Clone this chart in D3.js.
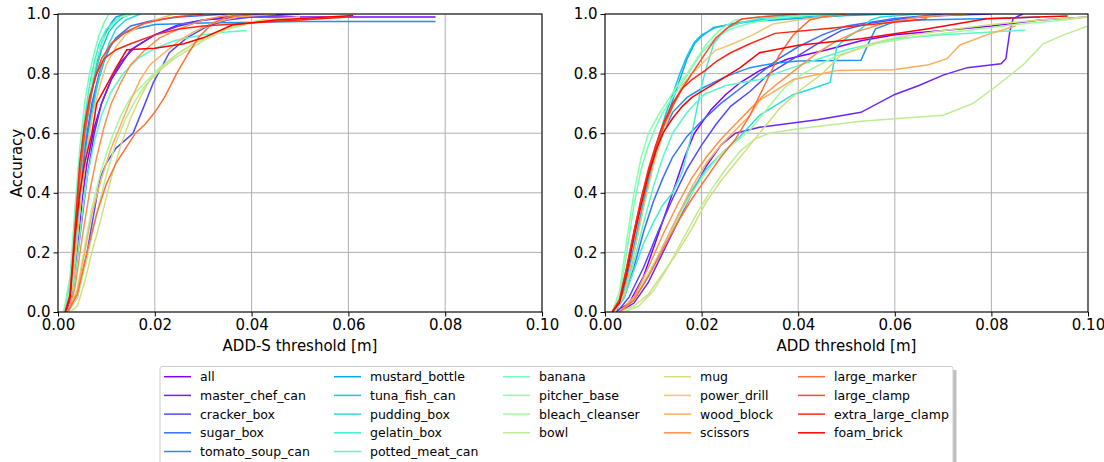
<!DOCTYPE html>
<meta charset="utf-8">
<body style="margin:0;background:#fff">
<div id="chart"></div>
<script src="https://d3js.org/d3.v7.min.js"></script>
<script>
// object names, in legend order
var objects = ["all", "master_chef_can", "cracker_box", "sugar_box", "tomato_soup_can",
  "mustard_bottle", "tuna_fish_can", "pudding_box", "gelatin_box", "potted_meat_can",
  "banana", "pitcher_base", "bleach_cleanser", "bowl",
  "mug", "power_drill", "wood_block", "scissors",
  "large_marker", "large_clamp", "extra_large_clamp", "foam_brick"];

var xTicks = [0, 0.02, 0.04, 0.06, 0.08, 0.10];
var yTicks = [0, 0.2, 0.4, 0.6, 0.8, 1.0];

// accuracy curves, ADD-S: [threshold m, accuracy]
var addsCurves = [
  [[0.0015,0],[0.003,0.05],[0.004,0.2],[0.005,0.38],[0.006,0.5],[0.0075,0.62],[0.009,0.7],[0.011,0.78],[0.013,0.83],[0.015,0.88],[0.02,0.93],[0.025,0.965],[0.03,0.98],[0.038,0.99],[0.06,0.99],[0.078,0.99]],
  [[0.002,0],[0.003,0.06],[0.0045,0.25],[0.006,0.45],[0.0075,0.6],[0.009,0.7],[0.011,0.78],[0.013,0.84],[0.016,0.89],[0.02,0.93],[0.025,0.96],[0.03,0.98],[0.037,0.995],[0.05,1.0]],
  [[0.002,0],[0.004,0.05],[0.006,0.2],[0.0087,0.45],[0.01,0.5],[0.012,0.55],[0.0155,0.6],[0.018,0.7],[0.0197,0.77],[0.023,0.87],[0.0266,0.92],[0.031,0.96],[0.035,0.98],[0.04,0.99],[0.05,1.0]],
  [[0.0015,0],[0.003,0.1],[0.004,0.3],[0.005,0.48],[0.006,0.6],[0.007,0.7],[0.0085,0.8],[0.01,0.87],[0.012,0.92],[0.015,0.96],[0.02,0.98],[0.025,0.99],[0.035,1.0]],
  [[0.0015,0],[0.003,0.1],[0.004,0.28],[0.005,0.45],[0.006,0.58],[0.007,0.68],[0.008,0.76],[0.0095,0.84],[0.011,0.9],[0.013,0.93],[0.016,0.95],[0.02,0.965],[0.03,0.97],[0.05,0.975],[0.078,0.975]],
  [[0.0015,0],[0.003,0.12],[0.004,0.33],[0.005,0.52],[0.006,0.66],[0.007,0.76],[0.008,0.84],[0.009,0.9],[0.01,0.94],[0.011,0.97],[0.012,0.99],[0.014,1.0]],
  [[0.0015,0],[0.003,0.1],[0.004,0.3],[0.005,0.5],[0.006,0.64],[0.007,0.74],[0.008,0.82],[0.009,0.88],[0.0105,0.94],[0.012,0.97],[0.0135,0.99],[0.015,1.0]],
  [[0.0015,0],[0.003,0.08],[0.004,0.25],[0.005,0.42],[0.006,0.55],[0.007,0.66],[0.008,0.75],[0.009,0.82],[0.0105,0.9],[0.012,0.95],[0.014,0.98],[0.017,1.0]],
  [[0.0012,0],[0.0025,0.1],[0.0035,0.3],[0.0045,0.5],[0.0055,0.65],[0.0065,0.76],[0.0075,0.84],[0.0085,0.9],[0.01,0.95],[0.012,0.98],[0.014,1.0]],
  [[0.002,0],[0.003,0.05],[0.004,0.18],[0.005,0.33],[0.006,0.45],[0.0075,0.57],[0.009,0.66],[0.011,0.74],[0.0135,0.8],[0.0165,0.85],[0.0195,0.88],[0.024,0.91],[0.03,0.93],[0.035,0.94],[0.039,0.945]],
  [[0.0012,0],[0.0025,0.12],[0.0035,0.35],[0.0045,0.55],[0.0055,0.7],[0.0065,0.8],[0.0075,0.87],[0.0085,0.93],[0.0095,0.97],[0.0105,1.0]],
  [[0.0015,0],[0.003,0.12],[0.004,0.33],[0.005,0.52],[0.006,0.66],[0.007,0.77],[0.008,0.85],[0.0095,0.92],[0.011,0.96],[0.013,0.99],[0.016,1.0]],
  [[0.002,0],[0.004,0.08],[0.0055,0.22],[0.007,0.35],[0.009,0.48],[0.011,0.58],[0.013,0.66],[0.015,0.72],[0.018,0.77],[0.021,0.82],[0.025,0.87],[0.03,0.92],[0.035,0.95],[0.04,0.97],[0.05,0.99]],
  [[0.002,0],[0.004,0.05],[0.006,0.18],[0.008,0.33],[0.01,0.46],[0.012,0.57],[0.014,0.65],[0.016,0.71],[0.018,0.76],[0.021,0.81],[0.024,0.85],[0.027,0.88],[0.03,0.91],[0.035,0.95],[0.04,0.97],[0.05,0.985],[0.06,0.99]],
  [[0.0025,0],[0.004,0.02],[0.0055,0.1],[0.007,0.2],[0.009,0.32],[0.011,0.45],[0.013,0.56],[0.015,0.65],[0.017,0.72],[0.019,0.78],[0.022,0.83],[0.025,0.87],[0.028,0.9],[0.032,0.93],[0.036,0.96],[0.042,0.98],[0.05,0.99]],
  [[0.0015,0],[0.003,0.08],[0.004,0.25],[0.005,0.42],[0.006,0.55],[0.007,0.65],[0.0085,0.75],[0.01,0.83],[0.012,0.89],[0.014,0.93],[0.017,0.96],[0.02,0.98],[0.024,1.0]],
  [[0.002,0],[0.004,0.07],[0.0055,0.2],[0.007,0.33],[0.009,0.45],[0.011,0.55],[0.013,0.63],[0.015,0.71],[0.017,0.78],[0.019,0.83],[0.022,0.87],[0.025,0.91],[0.028,0.94],[0.032,0.97],[0.037,0.99],[0.045,1.0]],
  [[0.002,0],[0.0035,0.08],[0.005,0.25],[0.0065,0.4],[0.008,0.52],[0.0095,0.62],[0.011,0.7],[0.013,0.77],[0.015,0.83],[0.018,0.88],[0.021,0.92],[0.025,0.95],[0.03,0.98],[0.036,1.0]],
  [[0.002,0],[0.004,0.06],[0.006,0.2],[0.008,0.33],[0.01,0.43],[0.012,0.5],[0.014,0.55],[0.016,0.6],[0.018,0.63],[0.02,0.67],[0.022,0.72],[0.0245,0.8],[0.027,0.87],[0.029,0.92],[0.032,0.97],[0.035,0.99],[0.04,1.0]],
  [[0.0015,0],[0.0025,0.05],[0.0035,0.25],[0.0045,0.45],[0.0055,0.6],[0.0065,0.7],[0.0075,0.78],[0.009,0.85],[0.011,0.9],[0.014,0.94],[0.018,0.97],[0.024,0.99],[0.03,1.0]],
  [[0.0015,0],[0.0025,0.06],[0.0035,0.28],[0.0045,0.5],[0.0055,0.63],[0.0065,0.72],[0.008,0.8],[0.0095,0.85],[0.012,0.88],[0.015,0.9],[0.02,0.93],[0.025,0.95],[0.03,0.96],[0.04,0.97],[0.05,0.98],[0.06,0.99]],
  [[0.0015,0],[0.0025,0.05],[0.0035,0.25],[0.0045,0.4],[0.0055,0.5],[0.007,0.6],[0.008,0.7],[0.01,0.76],[0.012,0.82],[0.0142,0.88],[0.02,0.885],[0.026,0.9],[0.03,0.92],[0.036,0.963],[0.045,0.98],[0.061,0.995]]
];

// accuracy curves, ADD
var addCurves = [
  [[0.002,0],[0.005,0.03],[0.008,0.12],[0.011,0.26],[0.014,0.4],[0.0165,0.52],[0.0185,0.6],[0.022,0.68],[0.025,0.73],[0.028,0.77],[0.032,0.81],[0.038,0.85],[0.046,0.88],[0.053,0.91],[0.06,0.93],[0.07,0.945],[0.08,0.96],[0.09,0.98],[0.1,0.99]],
  [[0.003,0],[0.006,0.03],[0.009,0.1],[0.012,0.2],[0.015,0.3],[0.018,0.4],[0.021,0.49],[0.024,0.56],[0.027,0.6],[0.032,0.62],[0.044,0.645],[0.053,0.67],[0.06,0.73],[0.065,0.76],[0.07,0.795],[0.075,0.82],[0.082,0.833],[0.083,0.85],[0.0838,0.94],[0.0845,0.985],[0.0865,1.0]],
  [[0.0025,0],[0.005,0.05],[0.008,0.15],[0.011,0.27],[0.014,0.38],[0.017,0.48],[0.02,0.56],[0.023,0.63],[0.026,0.69],[0.03,0.74],[0.034,0.8],[0.04,0.86],[0.045,0.91],[0.049,0.945],[0.055,0.97],[0.062,0.985],[0.07,0.995],[0.08,1.0]],
  [[0.002,0],[0.004,0.05],[0.006,0.15],[0.008,0.27],[0.01,0.37],[0.012,0.45],[0.014,0.52],[0.017,0.59],[0.02,0.64],[0.024,0.7],[0.028,0.75],[0.032,0.8],[0.036,0.85],[0.04,0.89],[0.045,0.93],[0.05,0.96],[0.06,0.985],[0.07,1.0]],
  [[0.002,0],[0.004,0.08],[0.006,0.22],[0.008,0.37],[0.01,0.5],[0.012,0.6],[0.014,0.67],[0.017,0.72],[0.02,0.75],[0.025,0.79],[0.03,0.82],[0.035,0.835],[0.04,0.842],[0.053,0.845],[0.0545,0.9],[0.056,0.95],[0.06,0.975],[0.065,0.98],[0.08,0.985],[0.09,0.99]],
  [[0.002,0],[0.0035,0.04],[0.005,0.12],[0.0065,0.24],[0.008,0.36],[0.0095,0.47],[0.011,0.56],[0.0125,0.64],[0.014,0.71],[0.0155,0.78],[0.017,0.85],[0.0185,0.9],[0.02,0.925],[0.0225,0.955],[0.026,0.965],[0.03,0.975],[0.04,0.985],[0.05,0.995],[0.06,1.0]],
  [[0.002,0],[0.0035,0.05],[0.005,0.13],[0.0065,0.25],[0.008,0.37],[0.0095,0.48],[0.011,0.58],[0.0125,0.66],[0.014,0.73],[0.0155,0.8],[0.017,0.86],[0.0185,0.905],[0.02,0.93],[0.023,0.955],[0.027,0.97],[0.032,0.98],[0.04,0.99],[0.05,1.0]],
  [[0.003,0],[0.006,0.04],[0.009,0.12],[0.012,0.22],[0.015,0.32],[0.018,0.41],[0.021,0.48],[0.024,0.53],[0.028,0.59],[0.032,0.66],[0.036,0.7],[0.039,0.73],[0.043,0.75],[0.0466,0.77],[0.048,0.89],[0.05,0.92],[0.053,0.95],[0.055,0.98],[0.057,0.99],[0.065,1.0]],
  [[0.002,0],[0.004,0.05],[0.006,0.14],[0.008,0.23],[0.01,0.3],[0.012,0.36],[0.014,0.4],[0.016,0.47],[0.018,0.6],[0.02,0.76],[0.021,0.82],[0.0225,0.9],[0.025,0.95],[0.028,0.97],[0.032,0.985],[0.04,0.995],[0.05,1.0]],
  [[0.002,0],[0.004,0.06],[0.006,0.17],[0.008,0.3],[0.01,0.42],[0.012,0.52],[0.014,0.6],[0.017,0.67],[0.0205,0.73],[0.025,0.76],[0.032,0.78],[0.037,0.81],[0.0424,0.84],[0.05,0.88],[0.06,0.917],[0.07,0.93],[0.08,0.94],[0.087,0.946]],
  [[0.0015,0],[0.003,0.05],[0.0045,0.2],[0.006,0.36],[0.0075,0.48],[0.009,0.56],[0.0105,0.62],[0.012,0.67],[0.014,0.72],[0.016,0.77],[0.018,0.82],[0.02,0.87],[0.023,0.92],[0.026,0.95],[0.03,0.97],[0.035,0.985],[0.045,1.0]],
  [[0.0015,0],[0.003,0.07],[0.0045,0.24],[0.006,0.4],[0.0075,0.52],[0.009,0.6],[0.011,0.66],[0.013,0.71],[0.015,0.76],[0.017,0.8],[0.019,0.85],[0.021,0.9],[0.024,0.95],[0.027,0.98],[0.032,0.99],[0.04,1.0]],
  [[0.003,0],[0.006,0.05],[0.009,0.13],[0.012,0.22],[0.015,0.31],[0.018,0.4],[0.021,0.47],[0.024,0.53],[0.027,0.57],[0.03,0.61],[0.033,0.67],[0.037,0.75],[0.041,0.8],[0.048,0.86],[0.056,0.9],[0.065,0.925],[0.075,0.945],[0.085,0.965],[0.095,0.98],[0.1,0.99]],
  [[0.004,0],[0.007,0.02],[0.01,0.07],[0.013,0.15],[0.016,0.24],[0.019,0.33],[0.022,0.41],[0.025,0.48],[0.028,0.54],[0.031,0.58],[0.034,0.6],[0.04,0.615],[0.053,0.64],[0.07,0.66],[0.0762,0.7],[0.0804,0.75],[0.0866,0.83],[0.0907,0.9],[0.095,0.93],[0.1,0.96]],
  [[0.003,0],[0.006,0.02],[0.009,0.06],[0.012,0.13],[0.015,0.2],[0.018,0.28],[0.021,0.37],[0.024,0.44],[0.027,0.5],[0.03,0.56],[0.033,0.62],[0.036,0.68],[0.04,0.74],[0.045,0.8],[0.0487,0.86],[0.055,0.9],[0.06,0.92],[0.07,0.945],[0.08,0.965],[0.09,0.98],[0.1,0.99]],
  [[0.002,0],[0.004,0.06],[0.006,0.2],[0.008,0.35],[0.01,0.49],[0.012,0.6],[0.014,0.69],[0.016,0.76],[0.018,0.8],[0.0205,0.84],[0.0228,0.877],[0.0265,0.9],[0.0306,0.93],[0.0347,0.966],[0.04,0.98],[0.045,0.99],[0.05,1.0]],
  [[0.003,0],[0.006,0.04],[0.009,0.12],[0.012,0.22],[0.015,0.32],[0.018,0.42],[0.021,0.5],[0.024,0.56],[0.027,0.61],[0.03,0.66],[0.032,0.71],[0.039,0.78],[0.048,0.81],[0.0597,0.813],[0.067,0.83],[0.0708,0.85],[0.0735,0.896],[0.079,0.93],[0.0845,0.957],[0.085,0.96]],
  [[0.003,0],[0.006,0.05],[0.009,0.15],[0.012,0.26],[0.015,0.36],[0.018,0.45],[0.021,0.52],[0.024,0.58],[0.027,0.63],[0.03,0.68],[0.033,0.73],[0.036,0.77],[0.04,0.82],[0.044,0.87],[0.048,0.91],[0.052,0.94],[0.058,0.97],[0.065,0.99],[0.075,1.0]],
  [[0.003,0],[0.006,0.04],[0.009,0.12],[0.012,0.21],[0.015,0.3],[0.018,0.38],[0.021,0.45],[0.024,0.52],[0.027,0.58],[0.03,0.66],[0.033,0.76],[0.036,0.86],[0.039,0.93],[0.0424,0.98],[0.045,0.99],[0.05,1.0]],
  [[0.0015,0],[0.003,0.04],[0.0045,0.15],[0.006,0.27],[0.0075,0.38],[0.009,0.47],[0.0105,0.55],[0.012,0.62],[0.014,0.69],[0.016,0.75],[0.018,0.8],[0.0207,0.866],[0.023,0.92],[0.0255,0.955],[0.0283,0.983],[0.032,0.99],[0.04,1.0]],
  [[0.0015,0],[0.003,0.04],[0.0045,0.15],[0.006,0.27],[0.0075,0.38],[0.009,0.48],[0.0105,0.56],[0.012,0.63],[0.014,0.7],[0.016,0.75],[0.018,0.78],[0.0207,0.81],[0.023,0.84],[0.026,0.87],[0.03,0.9],[0.0352,0.935],[0.045,0.95],[0.055,0.965],[0.0666,0.983]],
  [[0.0015,0],[0.003,0.03],[0.0045,0.13],[0.006,0.25],[0.0075,0.36],[0.009,0.46],[0.0105,0.54],[0.012,0.6],[0.014,0.65],[0.016,0.69],[0.018,0.72],[0.02,0.74],[0.022,0.76],[0.025,0.79],[0.028,0.82],[0.032,0.87],[0.04,0.895],[0.053,0.917],[0.0666,0.95],[0.079,0.984],[0.0958,0.993]]
];

// matplotlib "rainbow" colormap
function rainbow(t) {
  var r = Math.min(1, Math.abs(2 * t - 0.5)),
    g = Math.sin(Math.PI * t),
    b = Math.cos(Math.PI * t / 2);
  return d3.rgb(r * 255, g * 255, b * 255).formatHex();
}
var colors = objects.map(function(d, i) { return rainbow(i / (objects.length - 1)); });

var W = 1104, H = 462;
var svg = d3.select("#chart").append("svg")
  .attr("width", W)
  .attr("height", H)
  .style("font-family", "'DejaVu Sans', sans-serif");

var yTop = 14, yBottom = 312;
var panels = [
  {left: 58, right: 542, curves: addsCurves, label: "ADD-S threshold [m]", ylabel: true, id: "a"},
  {left: 605, right: 1088, curves: addCurves, label: "ADD threshold [m]", ylabel: false, id: "b"}
];

panels.forEach(function(p) {
  var x = d3.scaleLinear().domain([0, 0.1]).range([p.left, p.right]);
  var y = d3.scaleLinear().domain([0, 1]).range([yBottom, yTop]);

  svg.append("clipPath").attr("id", "clip" + p.id)
    .append("rect")
    .attr("x", p.left).attr("y", yTop)
    .attr("width", p.right - p.left).attr("height", yBottom - yTop);

  var g = svg.append("g");

  // grid
  g.selectAll(".vg").data(xTicks).enter().append("line")
    .attr("x1", function(d) { return x(d); }).attr("x2", function(d) { return x(d); })
    .attr("y1", yTop).attr("y2", yBottom)
    .style("stroke", "#b0b0b0").style("stroke-width", 1);
  g.selectAll(".hg").data(yTicks).enter().append("line")
    .attr("y1", function(d) { return y(d); }).attr("y2", function(d) { return y(d); })
    .attr("x1", p.left).attr("x2", p.right)
    .style("stroke", "#b0b0b0").style("stroke-width", 1);

  // curves
  var line = d3.line()
    .x(function(d) { return x(d[0]); })
    .y(function(d) { return y(d[1]); });

  g.append("g").attr("clip-path", "url(#clip" + p.id + ")")
    .selectAll("path").data(p.curves).enter().append("path")
    .attr("d", line)
    .style("fill", "none")
    .style("stroke", function(d, i) { return colors[i]; })
    .style("stroke-width", 1.5);

  // axes
  var xAxis = g.append("g")
    .attr("transform", "translate(0," + yBottom + ")")
    .call(d3.axisBottom(x).tickValues(xTicks).tickFormat(d3.format(".2f")).tickSizeOuter(0).tickSize(4.5).tickPadding(3));
  var yAxis = g.append("g")
    .attr("transform", "translate(" + p.left + ",0)")
    .call(d3.axisLeft(y).tickValues(yTicks).tickFormat(d3.format(".1f")).tickSizeOuter(0).tickSize(4.5).tickPadding(3));
  [xAxis, yAxis].forEach(function(a) {
    a.select(".domain").remove();
    a.selectAll("text").style("font-size", "15px").style("fill", "#000")
      .style("font-family", "'DejaVu Sans', sans-serif");
    a.selectAll("line").style("stroke", "#000").style("stroke-width", 1);
  });

  // frame
  g.append("rect")
    .attr("x", p.left).attr("y", yTop)
    .attr("width", p.right - p.left).attr("height", yBottom - yTop)
    .style("fill", "none").style("stroke", "#000").style("stroke-width", 1);

  g.append("text")
    .attr("x", (p.left + p.right) / 2)
    .attr("y", 351)
    .style("text-anchor", "middle")
    .style("font-size", "15px")
    .text(p.label);

  if (p.ylabel) {
    g.append("text")
      .attr("transform", "rotate(-90)")
      .attr("x", -(yTop + yBottom) / 2)
      .attr("y", 22)
      .style("text-anchor", "middle")
      .style("font-size", "15px")
      .text("Accuracy");
  }
});

// legend
var lx = 160, ly = 366.5, lw = 793;
var colX = [164, 334, 503, 664, 798];
var colStart = [0, 5, 10, 14, 18, 22];

svg.append("rect")
  .attr("x", lx + 3.5).attr("y", ly + 3.5)
  .attr("width", lw).attr("height", 120)
  .style("fill", "#808080").style("opacity", 0.5);
svg.append("rect")
  .attr("x", lx).attr("y", ly)
  .attr("width", lw).attr("height", 120)
  .attr("rx", 2)
  .style("fill", "#fff").style("stroke", "#cccccc").style("stroke-width", 1);

objects.forEach(function(name, i) {
  var c = d3.bisectRight(colStart, i) - 1;
  var r = i - colStart[c];
  var yy = 376.7 + r * 18.7;
  svg.append("line")
    .attr("x1", colX[c]).attr("x2", colX[c] + 27)
    .attr("y1", yy).attr("y2", yy)
    .style("stroke", colors[i]).style("stroke-width", 1.5);
  svg.append("text")
    .attr("x", colX[c] + 36)
    .attr("y", yy)
    .attr("dy", "0.36em")
    .style("font-size", "12.5px")
    .text(name);
});
</script>
</body>
